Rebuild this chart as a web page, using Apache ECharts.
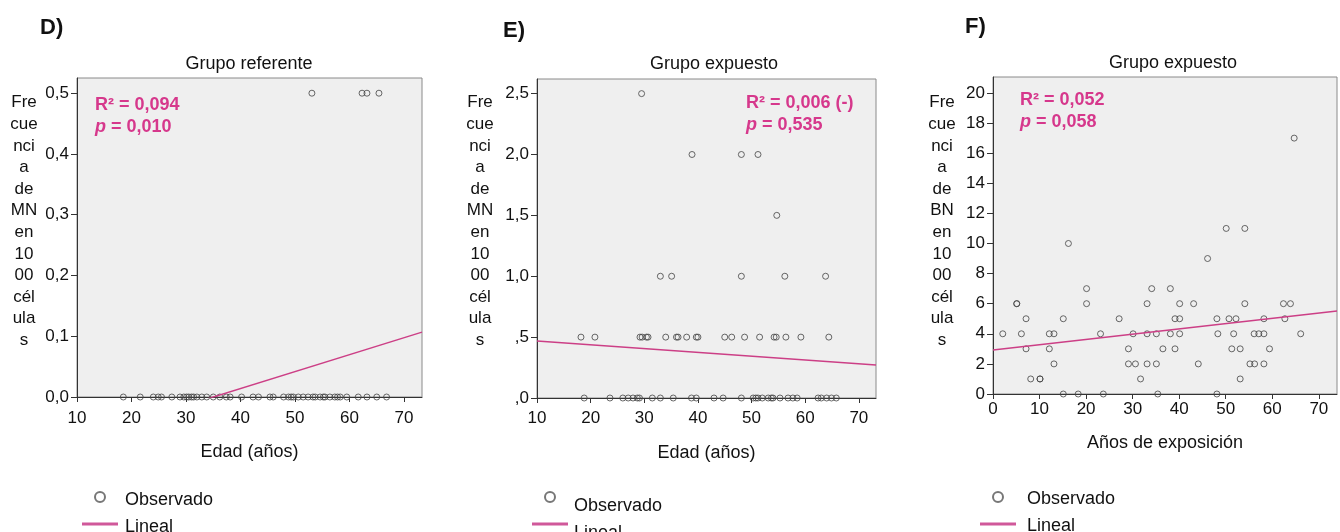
<!DOCTYPE html>
<html><head><meta charset="utf-8">
<script src="https://cdn.jsdelivr.net/npm/echarts@6/dist/echarts.min.js"></script>
<style>html,body{margin:0;padding:0;background:#fff}#c{width:1340px;height:532px}</style>
</head><body><div id="c"></div>
<script>
// ---------- DATA ----------
// Panel D: Grupo referente, Frecuencia de MN vs Edad
const dEdadMN05 = [53.1, 62.3, 63.2, 65.4];
const dEdadMN00 = [18.5, 21.6, 24.0, 24.9, 25.5, 27.4, 28.9, 29.6, 30.1, 30.5, 31.0, 31.4, 32.0, 32.9, 33.8, 35.0,
  36.2, 37.4, 38.1, 40.2, 42.3, 43.3, 45.4, 46.0, 47.9, 48.8, 49.3, 49.7, 50.6, 51.5, 52.4, 53.3, 53.7, 54.6, 55.2,
  55.5, 56.4, 57.3, 57.8, 58.3, 59.5, 61.6, 63.2, 65.0, 66.8];
const dFit = { intercept: -0.0977, slope: 0.00279 };
const dXTicks = [10, 20, 30, 40, 50, 60, 70];
const dYTicks = [0, 0.1, 0.2, 0.3, 0.4, 0.5];

// Panel E: Grupo expuesto, Frecuencia de MN vs Edad
const eEdadMN25 = [29.5];
const eEdadMN20 = [38.9, 48.1, 51.2];
const eEdadMN15 = [54.7];
const eEdadMN10 = [33.0, 35.1, 48.1, 56.2, 63.8];
const eEdadMN05 = [18.2, 20.8, 29.2, 29.6, 30.4, 30.7, 34.0, 36.0, 36.3, 37.9, 39.7, 40.0, 45.0, 46.3, 48.7, 51.5,
  54.2, 54.6, 56.4, 59.2, 64.4];
const eEdadMN00 = [18.8, 23.6, 26.0, 27.0, 27.9, 28.7, 29.1, 31.5, 33.0, 35.4, 38.8, 39.7, 43.0, 44.7, 48.1, 50.3,
  50.8, 51.2, 52.0, 53.1, 53.7, 54.0, 55.3, 56.8, 57.7, 58.5, 62.4, 63.0, 64.0, 64.9, 65.8];
const eFit = { intercept: 0.5003, slope: -0.003133 };
const eXTicks = [10, 20, 30, 40, 50, 60, 70];
const eYTicks = [0, 0.5, 1.0, 1.5, 2.0, 2.5];

// Panel F: Grupo expuesto, Frecuencia de BN vs Años de exposición
const fAnios = [64.7, 50.1, 54.1, 16.2, 46.1,
  20.1, 34.1, 38.1,
  5.1, 5.1, 20.1, 33.1, 40.1, 43.1, 54.1, 62.4, 63.9,
  7.1, 15.1, 27.1, 39.1, 40.1, 48.1, 50.7, 52.2, 58.2, 62.7,
  2.1, 6.1, 12.1, 13.1, 23.1, 30.1, 33.1, 35.1, 38.1, 40.1, 48.3, 51.7, 56.1, 57.1, 58.2, 66.1,
  7.1, 12.1, 29.1, 36.5, 39.1, 51.3, 53.1, 59.4,
  13.1, 29.1, 30.6, 33.1, 35.1, 44.1, 55.2, 56.2, 58.2,
  8.1, 10.1, 10.1, 31.7, 53.1,
  15.1, 18.3, 23.7, 35.4, 48.1];
const fBN = [17, 11, 11, 10, 9,
  7, 7, 7,
  6, 6, 6, 6, 6, 6, 6, 6, 6,
  5, 5, 5, 5, 5, 5, 5, 5, 5, 5,
  4, 4, 4, 4, 4, 4, 4, 4, 4, 4, 4, 4, 4, 4, 4, 4,
  3, 3, 3, 3, 3, 3, 3, 3,
  2, 2, 2, 2, 2, 2, 2, 2, 2,
  1, 1, 1, 1, 1,
  0, 0, 0, 0, 0];
const fFit = { intercept: 2.92, slope: 0.03505 };
const fXTicks = [0, 10, 20, 30, 40, 50, 60, 70];
const fYTicks = [0, 2, 4, 6, 8, 10, 12, 14, 16, 18, 20];

// ---------- CHART ----------
const FONT = "'Liberation Sans', Arial, sans-serif";
const TXT = '#111';
const AX = '#333';
const PINK = '#cc3f86';
const ANNO = '#d6388c';

const grids = [
  { left: 77, top: 78, width: 345, height: 319 },
  { left: 537, top: 79, width: 339, height: 319 },
  { left: 993, top: 77, width: 344, height: 317 }
];
const xCfg = [
  { min: 10, max: 73.3, ticks: dXTicks, name: 'Edad (años)', margin: 13, gap: 46 },
  { min: 10, max: 73.2, ticks: eXTicks, name: 'Edad (años)', margin: 12, gap: 46 },
  { min: 0, max: 73.9, ticks: fXTicks, name: 'Años de exposición', margin: 7, gap: 40 }
];
const yCfg = [
  { min: 0, max: 0.525, ticks: dYTicks, fmt: v => v.toFixed(1).replace('.', ',') },
  { min: 0, max: 2.62, ticks: eYTicks, fmt: v => { const s = v.toFixed(1).replace('.', ','); return v < 1 ? s.slice(1) : s; } },
  { min: 0, max: 21.06, ticks: fYTicks, fmt: v => String(v) }
];

function pairs(xs, y) { return xs.map(x => [x, y]); }
const obs = [
  [].concat(pairs(dEdadMN05, 0.5), pairs(dEdadMN00, 0)),
  [].concat(pairs(eEdadMN25, 2.5), pairs(eEdadMN20, 2.0), pairs(eEdadMN15, 1.5), pairs(eEdadMN10, 1.0), pairs(eEdadMN05, 0.5), pairs(eEdadMN00, 0)),
  fAnios.map((x, i) => [x, fBN[i]])
];
const fits = [dFit, eFit, fFit];

const series = [];
obs.forEach((d, i) => {
  series.push({
    name: 'Observado', type: 'scatter', xAxisIndex: i, yAxisIndex: i, data: d,
    symbol: 'circle', symbolSize: 6, clip: true, z: 3,
    itemStyle: { color: 'rgba(0,0,0,0)', borderColor: '#444', borderWidth: 1 }
  });
  const f = fits[i], x0 = xCfg[i].min, x1 = xCfg[i].max;
  series.push({
    name: 'Lineal', type: 'line', xAxisIndex: i, yAxisIndex: i, clip: true, z: 4,
    data: [[x0, f.intercept + f.slope * x0], [x1, f.intercept + f.slope * x1]],
    symbol: 'none', lineStyle: { color: PINK, width: 1.5 }, itemStyle: { color: PINK }
  });
});

const xAxis = xCfg.map((c, i) => ({
  type: 'value', gridIndex: i, min: c.min, max: c.max,
  axisLine: { show: true, onZero: false, lineStyle: { color: AX, width: 1 } },
  axisTick: { show: true, length: 5, customValues: c.ticks, lineStyle: { color: AX } },
  axisLabel: { customValues: c.ticks, margin: c.margin, fontSize: 17, color: TXT, fontFamily: FONT },
  splitLine: { show: false },
  name: c.name, nameLocation: 'middle', nameGap: c.gap,
  nameTextStyle: { fontSize: 18, color: TXT, fontFamily: FONT }
}));
const yAxis = yCfg.map((c, i) => ({
  type: 'value', gridIndex: i, min: c.min, max: c.max,
  axisLine: { show: true, onZero: false, lineStyle: { color: AX, width: 1 } },
  axisTick: { show: true, length: 6, customValues: c.ticks, lineStyle: { color: AX } },
  axisLabel: { customValues: c.ticks, margin: 8, fontSize: 17, color: TXT, fontFamily: FONT, formatter: c.fmt },
  splitLine: { show: false }
}));

const yLabelD = 'Fre\ncue\nnci\na\nde\nMN\nen\n10\n00\ncél\nula\ns';
const yLabelF = 'Fre\ncue\nnci\na\nde\nBN\nen\n10\n00\ncél\nula\ns';

function plain(text, left, top, size, weight, align, lh) {
  return { text, left, top, padding: 0, textAlign: align || 'left',
    textStyle: { fontSize: size, fontWeight: weight || 'normal', color: TXT, fontFamily: FONT, lineHeight: lh } };
}
function anno(r2, p, left, top) {
  return { text: '{b|R² = ' + r2 + '}\n{i|p}{b| = ' + p + '}', left, top, padding: 0,
    textStyle: { rich: {
      b: { fontSize: 18, fontWeight: 'bold', color: ANNO, fontFamily: FONT, lineHeight: 22 },
      i: { fontSize: 18, fontWeight: 'bold', fontStyle: 'italic', color: ANNO, fontFamily: FONT, lineHeight: 22 }
    } } };
}

const title = [
  plain('D)', 40, 17, 22, 'bold'),
  plain('E)', 503, 20, 22, 'bold'),
  plain('F)', 965, 16, 22, 'bold'),
  plain('Grupo referente', 249, 55, 18, 'normal', 'center'),
  plain('Grupo expuesto', 714, 55, 18, 'normal', 'center'),
  plain('Grupo expuesto', 1173, 54, 18, 'normal', 'center'),
  plain(yLabelD, 24, 92, 17, 'normal', 'center', 21.6),
  plain(yLabelD, 480, 92, 17, 'normal', 'center', 21.6),
  plain(yLabelF, 942, 92, 17, 'normal', 'center', 21.6),
  anno('0,094', '0,010', 95, 94),
  anno('0,006 (-)', '0,535', 746, 92),
  anno('0,052', '0,058', 1020, 89)
];

const LINE_ICON = 'path://M0,0H36V3H0Z';
// p: text drop (px) relative to its icon; dx: extra gap before text
function legendAt(left, p, dx) {
  return {
    left, top: 487 - p, height: 140, orient: 'vertical', itemWidth: 36, itemHeight: 10, itemGap: 7 - 2 * p,
    selectedMode: false, padding: 0,
    formatter: '{t|{name}}',
    textStyle: { fontSize: 18, color: TXT, fontFamily: FONT, lineHeight: 20,
      rich: { t: { fontSize: 18, color: TXT, fontFamily: FONT, lineHeight: 20, height: 20, padding: [2 * p, 0, 0, dx] } } },
    data: [
      { name: 'Observado', icon: 'circle', itemStyle: { color: 'rgba(0,0,0,0)', borderColor: '#555', borderWidth: 2 } },
      { name: 'Lineal', icon: LINE_ICON, itemStyle: { color: '#d0589a', borderWidth: 0 } }
    ]
  };
}

const chart = echarts.init(document.getElementById('c'), null, { renderer: 'canvas' });
chart.setOption({
  animation: false,
  backgroundColor: '#fff',
  textStyle: { fontFamily: FONT },
  title,
  legend: [legendAt(82, 3, 2), legendAt(532, 9, 1), legendAt(980, 2, 6)],
  grid: grids.map(g => Object.assign({ show: true, backgroundColor: '#efefef', borderColor: '#8a8a8a', borderWidth: 1, containLabel: false }, g)),
  xAxis, yAxis, series
});
</script></body></html>
